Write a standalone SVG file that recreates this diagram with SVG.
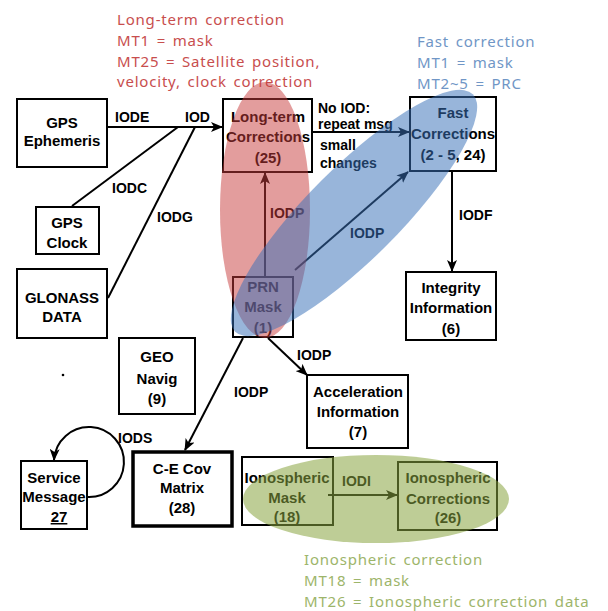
<svg xmlns="http://www.w3.org/2000/svg" width="608" height="611" viewBox="0 0 608 611">
<style>
.bg{fill:#fff}
.box{fill:none;stroke:#000;stroke-width:2}
.thick{stroke-width:3.5}
.t{font-family:"Liberation Sans",Arial,sans-serif;font-weight:bold;font-size:15px;text-anchor:middle;fill:#000}
.el{font-family:"Liberation Sans",Arial,sans-serif;font-weight:bold;font-size:14px;fill:#000}
.e{stroke:#000;stroke-width:2;fill:none}
.ann{font-family:"Noto Sans","Liberation Sans",sans-serif;font-size:15px;letter-spacing:0.8px;word-spacing:2px}
.red{fill:#c84e4e}
.blue{fill:#7096c6}
.green{fill:#9db56a}
</style>
<defs>
<marker id="arr" markerUnits="userSpaceOnUse" markerWidth="12" markerHeight="10" refX="11" refY="5" orient="auto">
<path d="M0,0 L12,5 L0,10 L3,5 z" fill="#000"/>
</marker>
</defs>
<rect class="bg" x="0" y="0" width="608" height="611"/>

<g id="annotations">
<text class="ann red" x="117" y="25">Long-term correction</text>
<text class="ann red" x="117" y="46">MT1 = mask</text>
<text class="ann red" x="117" y="67">MT25 = Satellite position,</text>
<text class="ann red" x="117" y="87">velocity, clock correction</text>
<text class="ann blue" x="417" y="47">Fast correction</text>
<text class="ann blue" x="417" y="68">MT1 = mask</text>
<text class="ann blue" x="417" y="89">MT2~5 = PRC</text>
<text class="ann green" x="304" y="565">Ionospheric correction</text>
<text class="ann green" x="304" y="586">MT18 = mask</text>
<text class="ann green" x="304" y="607">MT26 = Ionospheric correction data</text>
</g>

<g id="connectors">
<line class="e" x1="107" y1="127" x2="222" y2="127" marker-end="url(#arr)"/>
<line class="e" x1="72" y1="206" x2="178" y2="127"/>
<line class="e" x1="108" y1="298" x2="195" y2="127"/>
<line class="e" x1="312" y1="132" x2="409" y2="132" marker-end="url(#arr)"/>
<line class="e" x1="265" y1="277" x2="265" y2="173" marker-end="url(#arr)"/>
<line class="e" x1="295" y1="270" x2="408" y2="172" marker-end="url(#arr)"/>
<line class="e" x1="452" y1="171" x2="452" y2="271" marker-end="url(#arr)"/>
<line class="e" x1="268" y1="338" x2="307" y2="375" marker-end="url(#arr)"/>
<line class="e" x1="243" y1="338" x2="185" y2="450" marker-end="url(#arr)"/>
<path class="e" d="M87,497 A35,35 0 1 0 54,460" marker-end="url(#arr)"/>
<line class="e" x1="328" y1="495" x2="397" y2="495" marker-end="url(#arr)"/>
<text class="el" x="115" y="122">IODE</text>
<text class="el" x="185" y="122">IOD</text>
<text class="el" x="112" y="193">IODC</text>
<text class="el" x="157" y="222">IODG</text>
<text class="el" x="318" y="113">No IOD:</text>
<text class="el" x="318" y="129">repeat msg</text>
<text class="el" x="320" y="150" font-size="15">small</text>
<text class="el" x="320" y="168" font-size="15">changes</text>
<text class="el" x="270" y="218">IODP</text>
<text class="el" x="350" y="238">IODP</text>
<text class="el" x="459" y="220">IODF</text>
<text class="el" x="297" y="360">IODP</text>
<text class="el" x="234" y="397">IODP</text>
<text class="el" x="118" y="443">IODS</text>
<text class="el" x="342" y="486">IODI</text>
</g>

<g id="gps-ephemeris"><rect class="box" x="17" y="99" width="90" height="68"/><text class="t" x="62" y="128">GPS</text><text class="t" x="62" y="146">Ephemeris</text></g>
<g id="long-term"><rect class="box" x="223" y="99" width="89" height="73"/><text class="t" x="268" y="122">Long-term</text><text class="t" x="268" y="142">Corrections</text><text class="t" x="268" y="163">(25)</text></g>
<g id="fast"><rect class="box" x="410" y="97" width="86" height="74"/><text class="t" x="453" y="118">Fast</text><text class="t" x="453" y="139">Corrections</text><text class="t" x="453" y="160">(2 - 5, 24)</text></g>
<g id="gps-clock"><rect class="box" x="36" y="207" width="63" height="47"/><text class="t" x="67" y="228">GPS</text><text class="t" x="67" y="248">Clock</text></g>
<g id="glonass"><rect class="box" x="17" y="269" width="90" height="69"/><text class="t" x="62" y="303">GLONASS</text><text class="t" x="62" y="322">DATA</text></g>
<g id="prn-mask"><rect class="box" x="233" y="277" width="60" height="60"/><text class="t" x="263" y="292">PRN</text><text class="t" x="263" y="312">Mask</text><text class="t" x="263" y="333">(1)</text></g>
<g id="geo-navig"><rect class="box" x="119" y="338" width="76" height="76"/><text class="t" x="157" y="362">GEO</text><text class="t" x="157" y="384">Navig</text><text class="t" x="157" y="404">(9)</text></g>
<g id="integrity"><rect class="box" x="406" y="272" width="90" height="68"/><text class="t" x="451" y="293">Integrity</text><text class="t" x="451" y="313">Information</text><text class="t" x="451" y="334">(6)</text></g>
<g id="acceleration"><rect class="box" x="307" y="375" width="101" height="73"/><text class="t" x="358" y="397">Acceleration</text><text class="t" x="358" y="417">Information</text><text class="t" x="358" y="437">(7)</text></g>
<g id="service-message"><rect class="box" x="21" y="461" width="66" height="68"/><text class="t" x="54" y="483">Service</text><text class="t" x="54" y="502">Message</text><text class="t" x="59" y="522" text-decoration="underline">27</text></g>
<g id="ce-cov"><rect class="box thick" x="133" y="452" width="99" height="74"/><text class="t" x="182" y="474">C-E Cov</text><text class="t" x="182" y="493">Matrix</text><text class="t" x="182" y="513">(28)</text></g>
<g id="iono-mask"><rect class="box" x="242" y="457" width="91" height="68"/><text class="t" x="287" y="483">Ionospheric</text><text class="t" x="287" y="503">Mask</text><text class="t" x="287" y="522">(18)</text></g>
<g id="iono-corr"><rect class="box" x="398" y="462" width="99" height="68"/><text class="t" x="448" y="483">Ionospheric</text><text class="t" x="448" y="504">Corrections</text><text class="t" x="448" y="523">(26)</text></g>
<circle cx="63" cy="375" r="1.3" fill="#000"/>

<g id="highlights">
<ellipse cx="265" cy="210" rx="45" ry="128" fill="#c83c3c" fill-opacity="0.5"/>
<ellipse cx="354" cy="213" rx="168" ry="46" transform="rotate(-45 354 213)" fill="#3a72b8" fill-opacity="0.52"/>
<ellipse cx="376" cy="499" rx="133" ry="44" fill="#88a440" fill-opacity="0.55"/>
</g>
</svg>
